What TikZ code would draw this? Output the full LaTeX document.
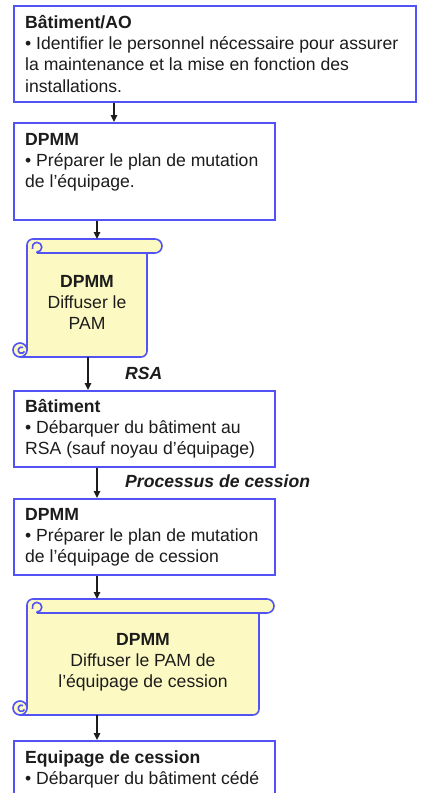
\documentclass[tikz,border=0pt]{standalone}
\usepackage{fontspec}
\setmainfont{Liberation Sans}
\usetikzlibrary{arrows.meta}

\definecolor{boxblue}{RGB}{82,82,245}
\definecolor{scrollfill}{RGB}{252,250,194}
\definecolor{inkgray}{RGB}{28,28,28}

\newcommand\flowfont{\fontsize{17.6}{21.4}\selectfont}

% Scroll outline: #1 body left, #2 top, #3 body right, #4 bar right, #5 bottom
\newcommand\drawscroll[5]{%
  % body
  \draw[scrollline, fill=scrollfill]
    ({#1-7},#5) -- ({#3-6},#5) arc[start angle=90, end angle=0, radius=6]
    -- (#3,{#2+7}) -- (#1,{#2+7}) -- (#1,{#5-7}) -- cycle;
  % bottom curl
  \draw[scrollline, fill=scrollfill] ({#1-7},{#5-7}) circle[radius=7];
  \draw[scrollline] ({#1-4},{#5-9.5}) arc[start angle=300, end angle=20, radius=3.2];
  % top bar
  \fill[scrollfill] (#1,{#2+14}) -- (#1,{#2+6}) arc[start angle=180, end angle=270, radius=6]
    -- ({#4-7},#2) arc[start angle=270, end angle=450, radius=7] -- cycle;
  \draw[scrollline] (#1,{#2+14}) -- (#1,{#2+6}) arc[start angle=180, end angle=270, radius=6]
    -- ({#4-7},#2) arc[start angle=270, end angle=450, radius=7] -- ({#1+10},{#2+14});
  % top curl
  \draw[scrollline] ({#1+10},{#2+14}) -- ({#1+10},{#2+13})
    arc[start angle=90, end angle=-200, radius=4.8];
}

\tikzset{
  stepbox/.style={draw=boxblue, line width=1.8pt, fill=white, rectangle,
    inner sep=0pt, anchor=north west},
  scrollarea/.style={rectangle, inner sep=0pt, anchor=north west},
  scrollline/.style={draw=boxblue, line width=1.6pt, line join=round},
  boxtxt/.style={anchor=base west, inner sep=0pt, text=inkgray, font=\flowfont},
  scrolltxt/.style={anchor=base, inner sep=0pt, text=inkgray, font=\flowfont},
  flowlabel/.style={anchor=base west, inner sep=0pt, text=inkgray,
    font=\flowfont\bfseries\itshape},
  arr/.style={draw=inkgray, line width=1.3pt, -{Triangle[length=7pt,width=6.5pt]}},
}

\begin{document}
\begin{tikzpicture}[x=1pt,y=-1pt]
\useasboundingbox (0,0) rectangle (421,793);
\clip (0,0) rectangle (421,793);
\fill[white] (0,0) rectangle (421,793);

% scroll shapes
\drawscroll{27}{239}{147}{162}{357}
\drawscroll{27}{599}{259}{274}{715}

% boxes
\node[stepbox, minimum width=402pt, minimum height=96pt] (b1) at (13,5) {};
\node[stepbox, minimum width=261pt, minimum height=97pt] (b2) at (13,122) {};
\node[scrollarea, minimum width=149pt, minimum height=118pt] (s1) at (13,239) {};
\node[stepbox, minimum width=261pt, minimum height=76pt] (b3) at (13,390) {};
\node[stepbox, minimum width=261pt, minimum height=76pt] (b4) at (13,498) {};
\node[scrollarea, minimum width=261pt, minimum height=116pt] (s2) at (13,599) {};
\node[stepbox, minimum width=261pt, minimum height=80pt] (b5) at (13,740) {};

% box texts
\node[boxtxt] (t1) at (25,28) {\parbox[t]{395pt}{\textbf{Bâtiment/AO}\\
  • Identifier le personnel nécessaire pour assurer\\
  la maintenance et la mise en fonction des\\
  installations.}};
\node[boxtxt] (t2) at (25,145) {\parbox[t]{250pt}{\textbf{DPMM}\\
  • Préparer le plan de mutation\\
  de l’équipage.}};
\node[scrolltxt] (t3) at (87,287) {\parbox[t]{118pt}{\centering\textbf{DPMM}\\
  Diffuser le\\PAM}};
\node[boxtxt] (t4) at (25,412) {\parbox[t]{250pt}{\textbf{Bâtiment}\\
  • Débarquer du bâtiment au\\
  RSA (sauf noyau d’équipage)}};
\node[boxtxt] (t5) at (25,520) {\parbox[t]{250pt}{\textbf{DPMM}\\
  • Préparer le plan de mutation\\
  de l'équipage de cession}};
\node[scrolltxt] (t6) at (143,645) {\parbox[t]{230pt}{\centering\textbf{DPMM}\\
  Diffuser le PAM de\\l'équipage de cession}};
\node[boxtxt] (t7) at (25,763) {\parbox[t]{250pt}{\textbf{Equipage de cession}\\
  • Débarquer du bâtiment cédé}};

% connector labels
\node[flowlabel] (lrsa) at (125,379) {RSA};
\node[flowlabel] (lcession) at (125,487) {Processus de cession};

% connector columns
\coordinate (c1) at (114,0);
\coordinate (c2) at (97,0);
\coordinate (c3) at (88,0);

% connectors
\draw[arr] (b1.south -| c1) -- (b2.north -| c1);
\draw[arr] (b2.south -| c2) -- (s1.north -| c2);
\draw[arr] (s1.south -| c3) -- (b3.north -| c3);
\draw[arr] (b3.south -| c2) -- (b4.north -| c2);
\draw[arr] (b4.south -| c2) -- (s2.north -| c2);
\draw[arr] (s2.south -| c2) -- (b5.north -| c2);
\end{tikzpicture}
\end{document}
